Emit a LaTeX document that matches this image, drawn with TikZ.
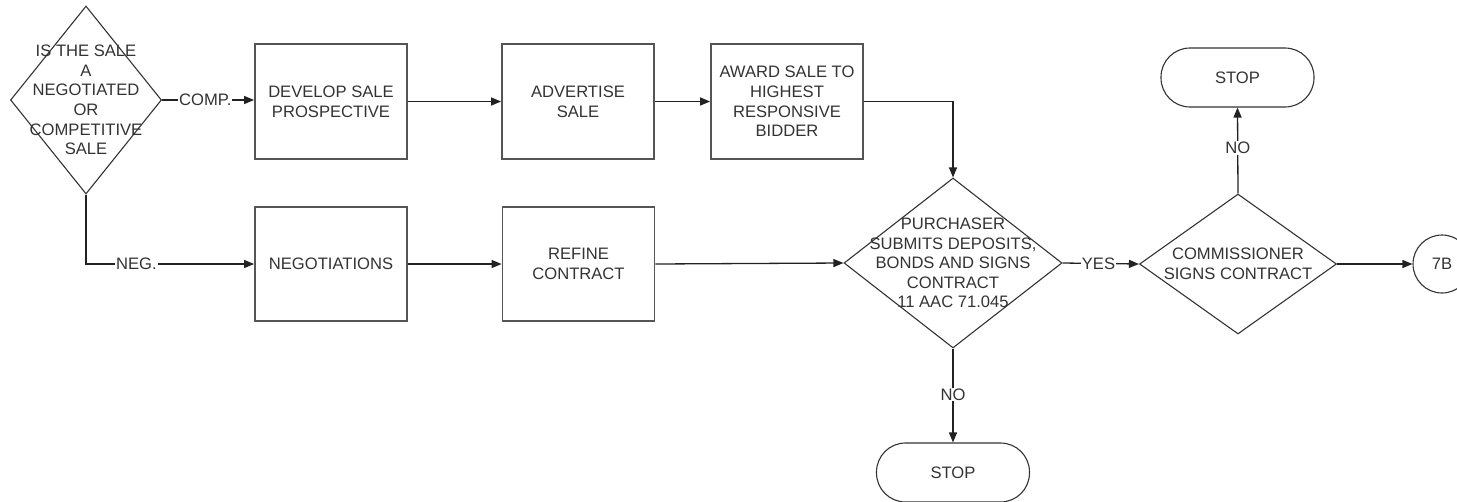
\documentclass[tikz,border=0pt]{standalone}
\usepackage{fontspec}
\setmainfont{Liberation Sans}
\usetikzlibrary{shapes.geometric,arrows.meta}
\definecolor{ink}{HTML}{333333}
\definecolor{frame}{HTML}{555555}
\definecolor{wire}{HTML}{222222}
\begin{document}
\begin{tikzpicture}[x=1pt,y=-1pt,
  every node/.style={font=\fontsize{16.6}{19.6}\selectfont, text=ink, align=center},
  procbox/.style={draw=frame, line width=1.8pt, rectangle, inner sep=0pt,
                  minimum width=152pt, minimum height=115pt},
  decision/.style={draw=ink, line width=1.1pt, diamond, inner sep=0pt},
  terminal/.style={draw=ink, line width=1.1pt, rectangle, rounded corners=29pt,
                   inner sep=0pt, minimum width=153pt, minimum height=59pt},
  connector/.style={draw=ink, line width=1.1pt, circle, inner sep=0pt, minimum size=58pt},
  flow/.style={draw=wire, line width=1.3pt, -{Triangle[length=10pt,width=8pt]}},
  tag/.style={fill=white, inner sep=1pt}]
\useasboundingbox (0,0) rectangle (1457,501);
\clip (0,0) rectangle (1457,501);

% decision: negotiated or competitive
\node[decision, minimum width=151pt, minimum height=188pt] (d1) at (86,100) {};
\node at (d1) {IS THE SALE\\A\\NEGOTIATED\\OR\\COMPETITIVE\\SALE};

% competitive branch
\node[procbox] (develop) at (331,101.5) {DEVELOP SALE\\PROSPECTIVE};
\node[procbox] (advert) at (578,101.5) {ADVERTISE\\SALE};
\node[procbox] (award) at (787,101.5) {AWARD SALE TO\\HIGHEST\\RESPONSIVE\\BIDDER};

% negotiated branch
\node[procbox, minimum height=114pt] (negot) at (331,264) {NEGOTIATIONS};
\node[procbox, minimum height=114pt] (refine) at (578.5,264) {REFINE\\CONTRACT};

% purchaser decision
\node[decision, minimum width=218pt, minimum height=170pt] (d2) at (953,263) {};
\node at (d2) {PURCHASER\\SUBMITS DEPOSITS,\\BONDS AND SIGNS\\CONTRACT\\11 AAC 71.045};

% commissioner decision
\node[decision, minimum width=197pt, minimum height=140pt] (d3) at (1238,264) {};
\node at (d3) {COMMISSIONER\\SIGNS CONTRACT};

% terminals and off-page connector
\node[terminal] (stopA) at (1237.5,77.5) {STOP};
\node[terminal] (stopB) at (953,472.5) {STOP};
\node[connector] (off7b) at (1442,264) {7B};

% connectors
\draw[flow] (d1.east) -- node[tag, pos=0.47] {COMP.} (develop.west |- d1.east);
\draw[flow] (d1.south) |- node[tag, pos=0.65] {NEG.} (negot.west);
\draw[flow] (develop.east) -- (advert.west);
\draw[flow] (advert.east) -- (award.west);
\draw[flow] (award.east) -| (d2.north);
\draw[flow] (negot.east) -- (refine.west);
\draw[flow] (refine.east) -- (d2.west);
\draw[flow] (d2.east) -- node[tag, pos=0.47] {YES} (d3.west);
\draw[flow] (d2.south) -- node[tag, pos=0.49] {NO} (stopB.north);
\draw[flow] (d3.north) -- node[tag, pos=0.53] {NO} (stopA.south);
\draw[flow] (d3.east) -- (off7b.west);
\end{tikzpicture}
\end{document}
